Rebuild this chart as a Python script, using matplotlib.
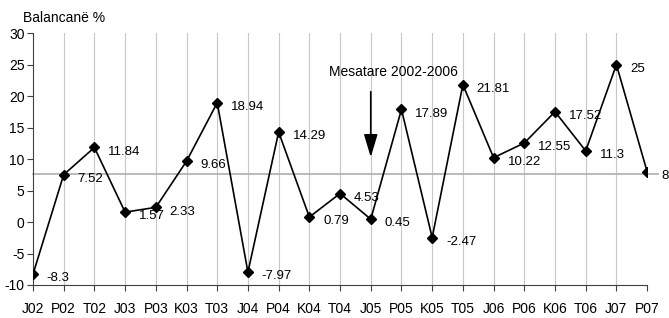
import matplotlib
matplotlib.use("Agg")
import matplotlib.pyplot as plt

# Data
quarters = ["J02", "P02", "T02", "J03", "P03", "K03", "T03", "J04", "P04", "K04", "T04",
            "J05", "P05", "K05", "T05", "J06", "P06", "K06", "T06", "J07", "P07"]
balance = [-8.3, 7.52, 11.84, 1.57, 2.33, 9.66, 18.94, -7.97, 14.29, 0.79, 4.53,
           0.45, 17.89, -2.47, 21.81, 10.22, 12.55, 17.52, 11.3, 25, 8]
mean_2002_2006 = 7.6
y_ticks = [-10, -5, 0, 5, 10, 15, 20, 25, 30]

plt.rcParams["font.family"] = ["Liberation Sans", "DejaVu Sans"]

fig = plt.figure(figsize=(6.69, 3.18), dpi=100)
ax = fig.add_axes([0.0493, 0.1038, 0.918, 0.792])

x = list(range(len(quarters)))

# vertical grid lines
for xi in x[1:]:
    ax.axvline(xi, color="#c8c8c8", lw=0.8, zorder=0)

# average line
ax.plot([0, 20.35], [mean_2002_2006, mean_2002_2006], color="#b4b4b4", lw=1.3,
        clip_on=False, zorder=1)

ax.plot(x, balance, color="black", lw=1.2, marker="D", markersize=5.5, zorder=3)

for xi, v in zip(x, balance):
    label = f"{v:g}"
    ax.annotate(label, (xi, v), xytext=(10, -3), textcoords="offset points",
                ha="left", va="center", fontsize=9.5, annotation_clip=False)

# annotation with arrow
ax.annotate("", xy=(11, 10.3), xytext=(11, 20.7),
            arrowprops=dict(arrowstyle="-|>,head_length=1.0,head_width=0.3",
                            mutation_scale=14, shrinkA=0, shrinkB=0,
                            color="black", lw=1.2))
ax.text(11.75, 23.8, "Mesatare 2002-2006", ha="center", va="center", fontsize=10)

ax.set_xlim(0, 20)
ax.set_ylim(-10, 30)
ax.set_xticks(x)
ax.set_xticklabels(quarters, fontsize=10)
ax.set_yticks(y_ticks)
ax.set_yticklabels([str(t) for t in y_ticks], fontsize=10)
ax.tick_params(axis="both", direction="out", length=4, width=0.8, colors="#404040",
               labelcolor="black")
ax.tick_params(axis="x", pad=8)
ax.tick_params(axis="y", pad=2)

for side in ["top", "right"]:
    ax.spines[side].set_visible(False)
ax.spines["left"].set_color("#404040")
ax.spines["bottom"].set_color("#404040")

fig.text(23 / 669, 1 - 18 / 318, "Balancanë %", ha="left", va="center", fontsize=10)

plt.savefig("out.png", dpi=100)
